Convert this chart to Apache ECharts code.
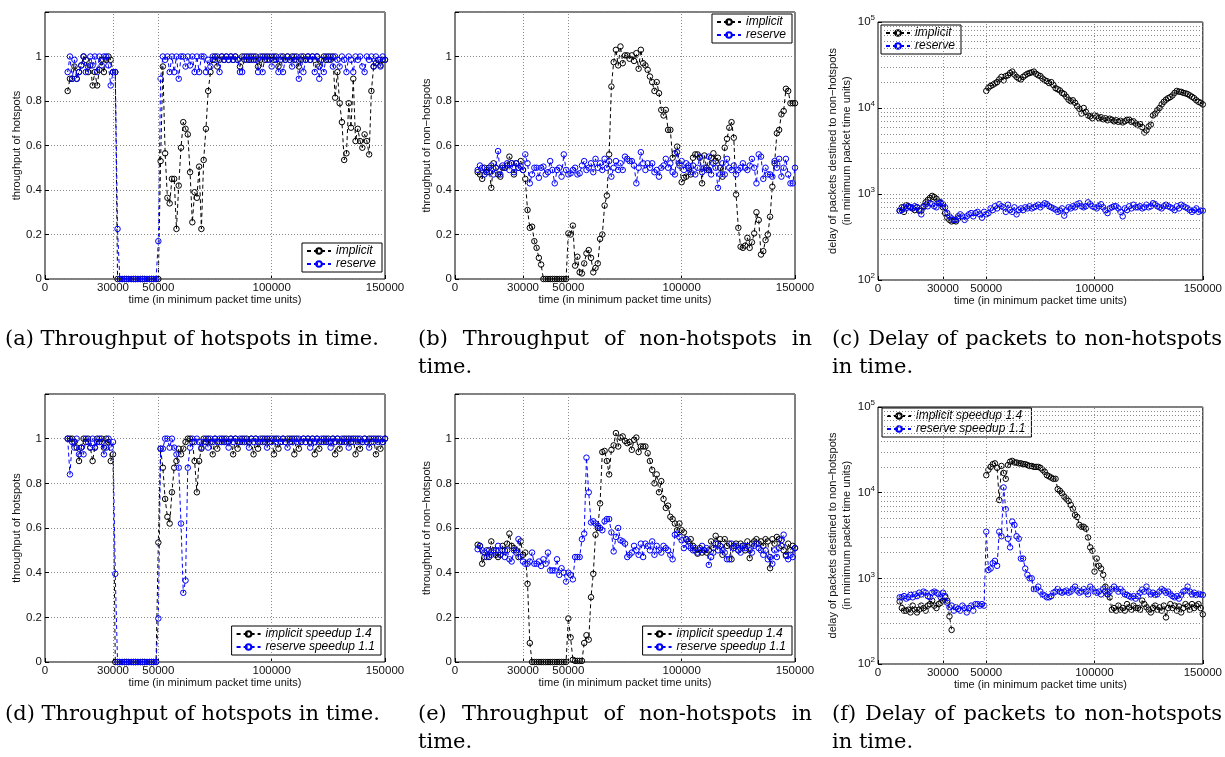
<!DOCTYPE html>
<html><head><meta charset="utf-8">
<script src="https://cdn.jsdelivr.net/npm/echarts@6/dist/echarts.min.js"></script>
<style>html,body{margin:0;padding:0;background:#fff}#c{width:1225px;height:757px}</style>
</head><body><div id="c"></div>
<script>
// sampling grid: one sample every 1000 time units from 10000 to 150000
const time = [];
for (let t = 10000; t <= 150000; t += 1000) time.push(t);

const xTicks = [0, 30000, 50000, 100000, 150000];
const xGridLines = [30000, 50000, 100000];

const namesTop = ['implicit', 'reserve'];
const namesBottom = ['implicit speedup 1.4', 'reserve speedup 1.1'];

const yNameHot = 'throughput of hotspots';
const yNameNon = 'throughput of non\u2212hotspots';
const yNameDelay = 'delay of packets destined to non\u2212hotspots\n(in minimum packet time units)';
const xName = 'time (in minimum packet time units)';

const captions = [
  ['(a) Throughput of hotspots in time.'],
  ['(b) Throughput of non-hotspots in', 'time.'],
  ['(c) Delay of packets to non-hotspots', 'in time.'],
  ['(d) Throughput of hotspots in time.'],
  ['(e) Throughput of non-hotspots in', 'time.'],
  ['(f) Delay of packets to non-hotspots', 'in time.']
];

// (a) throughput of hotspots
const hotA_imp = [0.845,0.90,0.90,0.955,0.90,0.93,0.96,1.00,0.985,0.93,
 0.96,0.87,0.93,0.87,0.94,0.985,0.93,0.985,1.00,0.985,
 0.93,0.93,0,0,0,0,0,0,0,0,
 0,0,0,0,0,0,0,0,0,0,
 0,0.53,0.955,0.565,0.365,0.34,0.45,0.45,0.225,0.42,
 0.59,0.705,0.675,0.65,0.48,0.255,0.39,0.365,0.505,0.225,
 0.535,0.675,0.845,0.93,0.985,1.0,0.955,0.985,1.0,0.985,
 1.0,0.985,1.0,0.985,1.0,0.985,0.955,1.0,0.985,1.0,
 0.985,1.0,0.985,1.0,0.955,0.985,1.0,0.985,1.0,0.985,
 1.0,0.985,1.0,0.955,0.985,1.0,0.985,1.0,0.985,1.0,
 0.985,1.0,0.955,0.985,1.0,0.985,1.0,0.985,1.0,0.985,
 1.0,0.955,0.985,1.0,0.985,1.0,0.985,1.0,0.815,0.93,
 0.79,0.705,0.535,0.565,0.79,0.68,0.90,0.62,0.675,0.62,
 0.59,0.65,0.62,0.56,0.845,0.955,0.97,0.985,0.96,0.985,
 0.985];
const hotA_res = [0.93,1.0,0.90,0.985,0.90,0.93,0.96,1.0,0.93,0.955,
 1.0,0.96,1.0,0.93,1.0,0.96,1.0,1.0,0.96,0.87,
 0.93,0.93,0.225,0,0,0,0,0,0,0,
 0,0,0,0,0,0,0,0,0,0,
 0.17,0.90,1.0,0.985,1.0,0.93,1.0,0.93,1.0,0.90,
 1.0,1.0,0.955,1.0,0.96,1.0,0.93,1.0,0.93,1.0,
 1.0,0.93,0.985,0.955,1.0,0.985,1.0,0.93,1.0,0.985,
 1.0,0.985,1.0,0.985,1.0,0.985,0.93,0.93,1.0,0.985,
 1.0,0.985,1.0,0.985,0.93,1.0,0.93,1.0,0.985,1.0,
 0.955,1.0,0.985,0.93,1.0,0.93,0.985,1.0,0.985,0.955,
 1.0,0.985,0.90,1.0,0.93,0.985,1.0,0.985,1.0,0.93,
 1.0,0.90,0.985,0.93,1.0,0.985,1.0,0.955,1.0,0.985,
 0.955,1.0,0.985,0.93,1.0,0.985,0.93,1.0,0.985,1.0,
 0.955,0.93,1.0,0.985,1.0,0.955,1.0,0.985,0.955,1.0,
 0.985];

// (b) throughput of non-hotspots
const nonA_imp = [0.48,0.47,0.45,0.50,0.48,0.50,0.41,0.52,0.50,0.47,
 0.46,0.50,0.50,0.51,0.55,0.52,0.47,0.52,0.50,0.53,
 0.49,0.45,0.31,0.23,0.235,0.17,0.14,0.095,0.065,0,
 0,0,0,0,0,0,0,0,0,0,
 0.205,0.20,0.24,0.06,0.10,0.03,0.025,0.07,0.115,0.13,
 0.095,0.03,0.05,0.07,0.18,0.20,0.33,0.375,0.56,0.865,
 0.975,1.03,0.96,1.045,0.97,1.005,1.005,0.99,1.005,0.98,
 1.015,0.945,1.03,0.97,0.96,0.94,0.91,0.885,0.845,0.885,
 0.835,0.76,0.735,0.76,0.67,0.67,0.545,0.565,0.595,0.52,
 0.435,0.455,0.46,0.50,0.47,0.545,0.56,0.56,0.545,0.43,
 0.555,0.50,0.49,0.545,0.565,0.53,0.545,0.50,0.46,0.59,
 0.63,0.68,0.705,0.635,0.38,0.23,0.145,0.14,0.15,0.185,
 0.14,0.165,0.205,0.30,0.265,0.11,0.125,0.175,0.20,0.28,
 0.415,0.52,0.655,0.67,0.74,0.755,0.855,0.845,0.79,0.79,
 0.79];
const nonA_res = [0.49,0.51,0.50,0.47,0.49,0.48,0.51,0.47,0.50,0.575,
 0.47,0.51,0.50,0.52,0.49,0.52,0.48,0.52,0.50,0.505,
 0.49,0.56,0.52,0.43,0.47,0.50,0.50,0.455,0.50,0.505,
 0.47,0.48,0.53,0.49,0.43,0.49,0.50,0.46,0.56,0.49,
 0.47,0.475,0.49,0.50,0.47,0.475,0.51,0.53,0.49,0.50,
 0.52,0.48,0.54,0.50,0.52,0.49,0.54,0.50,0.53,0.46,
 0.50,0.53,0.49,0.52,0.49,0.55,0.54,0.53,0.53,0.51,
 0.43,0.50,0.57,0.52,0.49,0.52,0.50,0.52,0.48,0.49,
 0.46,0.50,0.51,0.54,0.50,0.52,0.48,0.47,0.57,0.51,
 0.53,0.49,0.52,0.51,0.48,0.51,0.47,0.50,0.55,0.48,
 0.50,0.49,0.55,0.47,0.52,0.50,0.41,0.47,0.52,0.47,
 0.54,0.50,0.49,0.51,0.47,0.49,0.50,0.52,0.50,0.49,
 0.51,0.54,0.50,0.43,0.56,0.55,0.45,0.50,0.47,0.47,
 0.46,0.53,0.50,0.54,0.46,0.50,0.54,0.47,0.43,0.43,
 0.50];

// (c) delay of packets to non-hotspots (null = no packets delivered)
const delA_imp = [640,700,620,740,720,700,680,650,700,640,
 640,720,800,850,900,950,920,880,820,780,
 700,600,530,500,480,490,480,520,null,null,
 null,null,null,null,null,null,null,null,null,null,
 15800,17200,18000,18600,19300,20000,21500,23000,21000,23500,
 24000,25500,26500,24500,23000,22000,21500,23000,24000,25000,
 25500,26000,26500,25000,24000,23500,22000,21000,20500,19500,
 20000,18500,17000,16500,16000,15000,14500,13500,12500,12000,
 12300,11500,10500,9800,8600,10000,9000,8200,8000,7600,
 8200,8000,7600,7800,7400,7600,7200,7500,7300,7000,
 7200,6900,7100,6800,7000,7300,7300,6900,7000,6600,
 6300,6500,6000,5200,5500,6100,6400,8200,8600,9400,
 10000,11000,11800,12500,13000,13400,14000,15000,15800,15500,
 15400,15000,14800,14500,14000,13500,13000,12300,11800,11500,
 11000];
const delA_res = [640,650,700,680,720,700,680,720,700,650,
 580,700,750,720,780,760,720,700,780,800,
 760,700,600,550,520,500,500,550,580,550,
 500,550,580,600,550,600,620,580,530,620,
 580,600,680,650,720,680,760,720,700,620,
 750,650,620,700,580,650,680,650,700,680,
 720,680,700,720,750,700,740,780,760,720,
 700,680,660,620,640,680,560,650,700,680,
 720,700,760,780,720,700,720,800,760,720,
 700,680,720,760,700,650,600,680,700,720,
 720,680,620,550,680,650,720,680,750,700,
 700,720,680,700,750,700,720,780,760,720,
 700,680,720,750,720,700,680,650,720,680,
 750,720,700,680,650,620,650,680,620,640,
 640];

// (d) throughput of hotspots, with speedup
const hotB_imp = [1.0,1.0,1.0,0.985,0.96,0.90,0.96,1.0,0.985,1.0,
 0.96,0.90,0.96,1.0,0.985,1.0,0.96,1.0,0.985,0.90,
 0.93,0,0,0,0,0,0,0,0,0,
 0,0,0,0,0,0,0,0,0,0,
 0.535,0.955,0.87,0.73,0.65,0.62,0.76,0.87,0.90,0.955,
 0.93,0.955,0.985,1.0,1.0,0.985,0.90,0.76,0.90,0.955,
 1.0,0.985,1.0,0.985,0.93,1.0,0.955,0.985,1.0,0.985,
 1.0,0.985,1.0,0.93,1.0,0.955,0.985,1.0,0.985,1.0,
 0.985,1.0,0.93,1.0,0.955,0.985,1.0,0.985,1.0,0.985,
 1.0,0.93,1.0,0.955,0.985,1.0,0.985,1.0,0.985,1.0,
 0.93,1.0,0.955,0.985,1.0,0.985,1.0,0.985,1.0,0.93,
 1.0,0.955,0.985,1.0,0.985,1.0,0.985,1.0,0.93,1.0,
 0.955,0.985,1.0,0.985,1.0,0.985,1.0,0.93,1.0,0.955,
 0.985,1.0,0.985,1.0,0.985,1.0,0.93,1.0,0.955,0.985,
 1.0];
const hotB_res = [1.0,0.84,0.985,0.96,1.0,0.93,0.96,0.93,1.0,0.985,
 0.96,1.0,0.96,0.985,1.0,0.985,0.93,0.96,1.0,0.96,
 0.985,0.395,0,0,0,0,0,0,0,0,
 0,0,0,0,0,0,0,0,0,0,
 0.195,0.955,0.955,1.0,1.0,0.96,1.0,0.96,0.93,0.87,
 0.62,0.31,0.365,0.87,0.96,1.0,0.985,1.0,0.985,0.96,
 0.985,1.0,0.96,1.0,0.985,1.0,0.985,1.0,0.985,1.0,
 0.985,0.96,1.0,0.985,1.0,0.985,1.0,0.985,1.0,0.985,
 0.96,1.0,0.985,1.0,0.985,1.0,0.985,1.0,0.96,1.0,
 0.985,1.0,0.985,1.0,0.985,1.0,0.985,0.96,1.0,0.985,
 1.0,0.985,1.0,0.985,1.0,0.985,1.0,0.96,1.0,0.985,
 1.0,0.985,1.0,0.985,1.0,0.985,0.96,1.0,0.985,1.0,
 0.985,1.0,0.985,1.0,0.96,1.0,0.985,1.0,0.985,1.0,
 0.985,1.0,0.985,0.96,1.0,0.985,1.0,0.985,1.0,0.985,
 1.0];

// (e) throughput of non-hotspots, with speedup
const nonB_imp = [0.525,0.52,0.44,0.47,0.50,0.47,0.54,0.50,0.48,0.47,
 0.48,0.52,0.50,0.53,0.575,0.52,0.51,0.50,0.47,0.54,
 0.48,0.49,0.35,0.085,0,0,0,0,0,0,
 0,0,0,0,0,0,0,0,0,0,
 0.195,0.11,0.01,0.005,0.005,0.005,0.005,0.085,0.12,0.10,
 0.29,0.395,0.57,0.60,0.71,0.94,0.945,0.90,0.84,0.95,
 0.97,1.025,0.965,1.005,1.01,0.99,0.98,0.985,0.95,0.995,
 1.005,0.94,0.965,0.965,0.965,0.935,0.90,0.86,0.80,0.84,
 0.76,0.81,0.73,0.69,0.70,0.65,0.64,0.62,0.59,0.62,
 0.59,0.58,0.55,0.54,0.55,0.52,0.50,0.485,0.51,0.49,
 0.50,0.49,0.50,0.54,0.51,0.565,0.53,0.55,0.48,0.55,
 0.52,0.53,0.46,0.52,0.53,0.50,0.53,0.52,0.50,0.54,
 0.465,0.53,0.54,0.55,0.53,0.54,0.52,0.55,0.54,0.42,
 0.55,0.53,0.56,0.55,0.52,0.50,0.48,0.53,0.50,0.52,
 0.51];
const nonB_res = [0.505,0.52,0.50,0.49,0.47,0.50,0.48,0.49,0.50,0.52,
 0.48,0.50,0.47,0.50,0.46,0.45,0.50,0.49,0.55,0.47,
 0.45,0.44,0.44,0.45,0.49,0.44,0.44,0.45,0.43,0.46,
 0.44,0.49,0.41,0.41,0.41,0.46,0.39,0.42,0.40,0.36,
 0.40,0.39,0.37,0.47,0.47,0.47,0.55,0.575,0.915,0.76,
 0.625,0.63,0.62,0.61,0.60,0.59,0.63,0.64,0.64,0.58,
 0.495,0.56,0.60,0.545,0.54,0.53,0.47,0.48,0.49,0.52,
 0.50,0.48,0.53,0.47,0.53,0.52,0.50,0.54,0.48,0.52,
 0.50,0.49,0.52,0.51,0.50,0.48,0.46,0.57,0.575,0.56,
 0.545,0.51,0.55,0.52,0.51,0.50,0.51,0.49,0.50,0.52,
 0.50,0.51,0.435,0.47,0.49,0.53,0.50,0.52,0.50,0.49,
 0.46,0.46,0.53,0.51,0.52,0.50,0.49,0.52,0.51,0.52,
 0.50,0.49,0.52,0.53,0.51,0.50,0.48,0.50,0.46,0.47,
 0.44,0.50,0.47,0.51,0.545,0.57,0.475,0.46,0.48,0.47,
 0.51];

// (f) delay of packets to non-hotspots, with speedup
const delB_imp = [537,450,420,420,430,400,480,430,400,430,
 480,450,420,480,500,550,480,450,500,520,
 550,600,550,360,250,null,null,null,null,null,
 null,null,null,null,null,null,null,null,null,null,
 16000,18500,20000,21500,22000,19500,8200,20500,17000,14500,
 21000,23000,23500,22500,22500,22000,22000,21500,21500,21000,
 20500,20500,20000,20000,20000,19500,18500,17500,16000,15500,
 15000,14500,14500,11000,10500,9800,9000,8500,8000,7200,
 6500,5500,5200,4200,4000,4000,3800,3000,2300,2100,
 1200,1700,1400,1300,1100,800,650,600,430,450,
 420,480,430,450,420,500,460,430,480,450,
 450,430,550,500,460,430,400,450,480,430,
 460,420,480,350,450,500,450,480,420,470,
 400,450,500,470,430,500,450,480,500,450,
 380];
const delB_res = [600,600,620,580,600,640,600,650,620,680,
 650,700,680,620,600,680,700,680,650,600,
 680,620,520,460,480,420,460,440,420,480,
 450,400,450,480,420,500,500,480,500,480,
 3500,1250,1300,1500,1600,1400,3500,3100,11500,6400,
 2900,2300,4600,4200,3100,2900,1700,1700,1300,1100,
 1000,1000,750,750,800,700,650,630,600,600,
 620,680,700,750,700,680,700,720,680,700,
 750,800,720,680,700,750,700,650,800,750,
 700,680,700,650,750,700,650,700,750,800,
 750,700,750,700,650,640,620,600,620,580,
 620,680,740,700,800,700,650,680,640,650,
 700,750,720,680,700,650,620,600,620,580,
 640,700,720,800,700,650,680,640,660,650,
 640];

// ---------------------------------------------------------------
const FONT = '"Liberation Sans", Arial, Helvetica, sans-serif';
const SERIF = '"DejaVu Serif", "Liberation Serif", serif';
const CAPTION_FONT = '21px ' + SERIF;
const GRIDC = '#8a8a8a';
const BLUE = '#0000ff';

const panels = [
  {grid:{left:45,top:12,width:340,height:267}, log:false, yName:yNameHot, imp:hotA_imp, res:hotA_res, names:namesTop, legend:{right:843, top:243}},
  {grid:{left:455,top:12,width:340,height:267}, log:false, yName:yNameNon, imp:nonA_imp, res:nonA_res, names:namesTop, legend:{right:433, top:14}},
  {grid:{left:878,top:22,width:328,height:258}, log:true, yName:yNameDelay, imp:delA_imp, res:delA_res, names:namesTop, legend:{left:881, top:25}},
  {grid:{left:45,top:394,width:340,height:268}, log:false, yName:yNameHot, imp:hotB_imp, res:hotB_res, names:namesBottom, legend:{right:844, top:626}},
  {grid:{left:455,top:394,width:340,height:268}, log:false, yName:yNameNon, imp:nonB_imp, res:nonB_res, names:namesBottom, legend:{right:433, top:626}},
  {grid:{left:878,top:407,width:327,height:257}, log:true, yName:yNameDelay, imp:delB_imp, res:delB_res, names:namesBottom, legend:{left:882, top:408}}
];

// caption column: left edge, right edge (for justified lines), top of first line
const captionPos = [
  {x:5, r:385, y:329}, {x:418, r:812, y:329}, {x:832, r:1222, y:329},
  {x:5, r:385, y:704}, {x:418, r:812, y:704}, {x:832, r:1222, y:704}
];

const minorLog = [];
[100, 1000, 10000].forEach(d => { for (let m = 2; m <= 9; m++) minorLog.push(m * d); });

const pairs = arr => arr.map((v, i) => [time[i], v]);

const measureCtx = document.createElement('canvas').getContext('2d');
measureCtx.font = CAPTION_FONT;

const grids = [], xAxes = [], yAxes = [], series = [], legends = [], graphics = [];
const gridLineStyle = {color: GRIDC, type: [1, 2], width: 1};

panels.forEach((p, i) => {
  grids.push(Object.assign({show:true, borderColor:'#000', borderWidth:1, backgroundColor:'transparent'}, p.grid));
  xAxes.push({
    type:'value', gridIndex:i, min:0, max:150000,
    name:xName, nameLocation:'middle', nameGap:14,
    nameTextStyle:{fontFamily:FONT, fontSize:11, color:'#111'},
    axisLine:{show:false},
    axisTick:{show:true, inside:true, length:4, customValues:xTicks, lineStyle:{color:'#000'}},
    axisLabel:{customValues:xTicks, fontFamily:FONT, fontSize:11.5, color:'#111', margin:3,
      showMinLabel:true, showMaxLabel:true, formatter: v => String(v)},
    splitLine:{show:false}
  });
  if (p.log) {
    yAxes.push({
      type:'log', logBase:10, gridIndex:i, min:100, max:100000,
      name:p.yName, nameLocation:'middle', nameGap:22,
      nameTextStyle:{fontFamily:FONT, fontSize:11, color:'#111', lineHeight:14},
      axisLine:{show:false},
      axisTick:{show:true, inside:true, length:4, lineStyle:{color:'#000'}},
      axisLabel:{
        margin:3,
        formatter: v => '{b|10}{s|' + Math.round(Math.log10(v)) + '}',
        rich:{
          b:{fontFamily:FONT, fontSize:11.5, color:'#111'},
          s:{fontFamily:FONT, fontSize:8, color:'#111', padding:[0,0,8,0]}
        }
      },
      splitLine:{show:true, lineStyle:gridLineStyle}
    });
  } else {
    yAxes.push({
      type:'value', gridIndex:i, min:0, max:1.2, interval:0.2,
      name:p.yName, nameLocation:'middle', nameGap:22,
      nameTextStyle:{fontFamily:FONT, fontSize:11, color:'#111'},
      axisLine:{show:false},
      axisTick:{show:true, inside:true, length:4, lineStyle:{color:'#000'}},
      axisLabel:{fontFamily:FONT, fontSize:11.5, color:'#111', margin:3,
        formatter: v => v > 1.1 ? '' : String(+v.toFixed(1))},
      splitLine:{show:true, lineStyle:gridLineStyle}
    });
  }
  const ml = xGridLines.map(v => ({xAxis: v}));
  if (p.log) minorLog.forEach(v => ml.push({yAxis: v}));
  series.push({
    type:'line', xAxisIndex:i, yAxisIndex:i, data:[], z:1, silent:true,
    markLine:{silent:true, symbol:'none', animation:false, label:{show:false},
      lineStyle:gridLineStyle, emphasis:{disabled:true}, data:ml}
  });
  [[p.names[0], p.imp, '#000', 3], [p.names[1], p.res, BLUE, 4]].forEach(([nm, arr, col, z]) => {
    series.push({
      type:'line', name:nm, xAxisIndex:i, yAxisIndex:i, data:pairs(arr),
      symbol:'circle', symbolSize:5.5, showSymbol:true, showAllSymbol:true,
      connectNulls:false, z:z, animation:false,
      itemStyle:{color:'rgba(0,0,0,0)', borderColor:col, borderWidth:1},
      lineStyle:{color:col, width:1, type:[4,3]},
      emphasis:{disabled:true}
    });
  });
  legends.push(Object.assign({
    orient:'vertical', data:p.names, selectedMode:false,
    backgroundColor:'#fff', borderColor:'#000', borderWidth:1, borderRadius:0,
    padding:[2,6,2,4], itemGap:1, itemWidth:24, itemHeight:7,
    textStyle:{fontFamily:FONT, fontSize:12, fontStyle:'italic', color:'#000'}
  }, p.legend));

  // captions: first line justified when the caption wraps onto a second line
  const c = captions[i], pos = captionPos[i];
  c.forEach((line, k) => {
    const top = pos.y + k * 28;
    if (k === 0 && c.length > 1) {
      const words = line.split(' ');
      const widths = words.map(w => measureCtx.measureText(w).width);
      const total = widths.reduce((a, b) => a + b, 0);
      const gap = (pos.r - pos.x - total) / (words.length - 1);
      let x = pos.x;
      words.forEach((w, j) => {
        graphics.push({type:'text', x:x, y:top, silent:true,
          style:{text:w, font:CAPTION_FONT, fill:'#000', textBaseline:'top'}});
        x += widths[j] + gap;
      });
    } else {
      graphics.push({type:'text', x:pos.x, y:top, silent:true,
        style:{text:line, font:CAPTION_FONT, fill:'#000', textBaseline:'top'}});
    }
  });
});

const chart = echarts.init(document.getElementById('c'), null, {renderer:'canvas'});
chart.setOption({
  backgroundColor:'#fff',
  animation:false,
  grid:grids, xAxis:xAxes, yAxis:yAxes, series:series, legend:legends,
  graphic:graphics
});
</script></body></html>
